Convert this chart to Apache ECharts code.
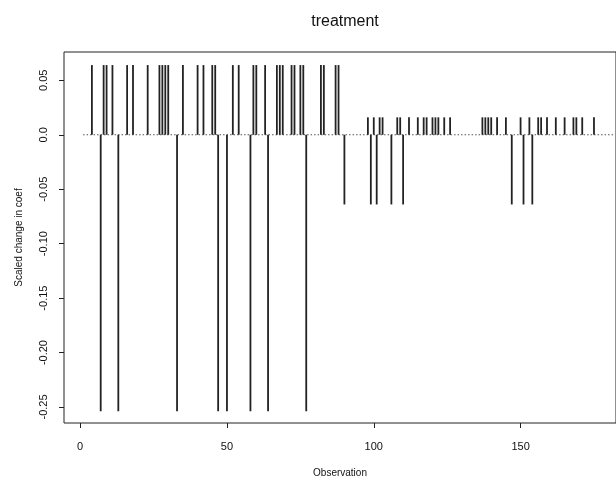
<!DOCTYPE html>
<html>
<head>
<meta charset="utf-8">
<script src="https://cdn.jsdelivr.net/npm/echarts@6/dist/echarts.min.js"></script>
<style>html,body{margin:0;padding:0;background:#fff}#c{width:616px;height:483px}</style>
</head>
<body>
<div id="c"></div>
<script>
// Observations and their scaled change in coefficient
const largePosObs = [4, 8, 9, 11, 16, 18, 23, 27, 28, 29, 30, 35, 40, 42, 45, 46, 52, 54, 59, 60, 63, 67, 68, 69, 72, 73, 75, 76, 82, 83, 87, 88];
const largePosVal = 0.064;
const largeNegObs = [7, 13, 33, 47, 50, 58, 64, 77];
const largeNegVal = -0.254;
const smallPosObs = [98, 100, 102, 103, 108, 109, 112, 115, 117, 118, 120, 121, 122, 124, 126, 137, 138, 139, 140, 142, 145, 150, 153, 156, 157, 159, 162, 165, 168, 169, 171, 175];
const smallPosVal = 0.016;
const smallNegObs = [90, 99, 101, 106, 110, 147, 151, 154];
const smallNegVal = -0.064;
const xTicks = [0, 50, 100, 150];
const yTicks = [0.05, 0.0, -0.05, -0.10, -0.15, -0.20, -0.25];
const yTickLabels = ['0.05', '0.0', '-0.05', '-0.10', '-0.15', '-0.20', '-0.25'];
const zeroLine = [[1, 0], [182, 0]];

const points = []
  .concat(largePosObs.map(o => [o, largePosVal]))
  .concat(largeNegObs.map(o => [o, largeNegVal]))
  .concat(smallPosObs.map(o => [o, smallPosVal]))
  .concat(smallNegObs.map(o => [o, smallNegVal]))
  .sort((a, b) => a[0] - b[0]);

const font = 'Liberation Sans, Arial, sans-serif';
const chart = echarts.init(document.getElementById('c'), null, {renderer: 'canvas'});
chart.setOption({
  animation: false,
  backgroundColor: '#fff',
  title: {
    text: 'treatment', left: 340, top: 9, textAlign: 'center',
    textStyle: {fontFamily: font, fontSize: 16, fontWeight: 'normal', color: '#111'}
  },
  grid: {left: 64, top: 52, right: -6, bottom: 59, show: true, borderColor: '#222', borderWidth: 1, backgroundColor: 'transparent'},
  xAxis: {
    type: 'value', min: -5.5, max: 182.5,
    axisLine: {show: false, onZero: false},
    splitLine: {show: false},
    axisTick: {show: true, length: 5, lineStyle: {color: '#222'}, customValues: xTicks},
    axisLabel: {fontFamily: font, fontSize: 11, color: '#111', margin: 18, customValues: xTicks, formatter: v => String(v)},
    name: 'Observation', nameLocation: 'middle', nameGap: 45,
    nameTextStyle: {fontFamily: font, fontSize: 10, color: '#111'}
  },
  yAxis: {
    type: 'value', min: -0.2647, max: 0.076,
    axisLine: {show: false, onZero: false},
    splitLine: {show: false},
    axisTick: {show: true, length: 5, lineStyle: {color: '#222'}, customValues: yTicks},
    axisLabel: {
      fontFamily: font, fontSize: 11, color: '#111', rotate: 90, margin: 15,
      customValues: yTicks,
      formatter: v => { const i = yTicks.findIndex(t => Math.abs(t - v) < 1e-9); return i >= 0 ? yTickLabels[i] : ''; }
    },
    name: 'Scaled change in coef', nameLocation: 'middle', nameGap: 40, nameRotate: 90,
    nameTextStyle: {fontFamily: font, fontSize: 10, color: '#111'}
  },
  series: [
    {
      type: 'line', data: zeroLine, symbol: 'none', silent: true,
      lineStyle: {color: '#555', width: 1, type: [1.5, 2]}, z: 1
    },
    {
      type: 'bar', data: points, barWidth: 1.8, silent: true,
      itemStyle: {color: '#222'}, z: 2
    }
  ]
});
</script>
</body>
</html>
